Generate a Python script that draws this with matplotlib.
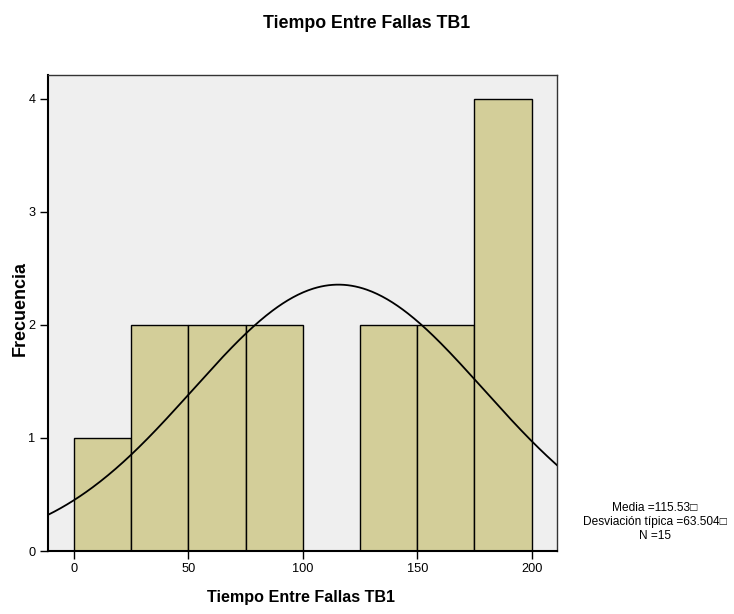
import numpy as np
import matplotlib
matplotlib.use("Agg")
import matplotlib.pyplot as plt

bin_edges = [0, 25, 50, 75, 100, 125, 150, 175, 200]
counts = [1, 2, 2, 2, 0, 2, 2, 4]
mean = 115.53
std = 63.504
n = 15
x_ticks = [0, 50, 100, 150, 200]
y_ticks = [0, 1, 2, 3, 4]

plt.rcParams['font.family'] = ['Liberation Sans', 'DejaVu Sans']

fig = plt.figure(figsize=(7.34, 6.14), dpi=100)
ax = fig.add_axes([48/734, 63/614, 509/734, 476/614])
ax.set_facecolor('#EFEFEF')

widths = np.diff(bin_edges)
ax.bar(bin_edges[:-1], counts, width=widths, align='edge',
       color='#D3CE99', edgecolor='black', linewidth=1.0, zorder=2)

xlim = (-11.4, 211.1)
xs = np.linspace(xlim[0], xlim[1], 400)
bw = bin_edges[1] - bin_edges[0]
ys = n * bw / (std * np.sqrt(2 * np.pi)) * np.exp(-0.5 * ((xs - mean) / std) ** 2)
ax.plot(xs, ys, color='black', linewidth=1.3, zorder=3)

ax.set_xlim(*xlim)
ax.set_ylim(0, 4.21)
ax.set_xticks(x_ticks)
ax.set_yticks(y_ticks)
ax.tick_params(direction='out', length=6, width=1, labelsize=9.2, colors='black', pad=3)
for s in ax.spines.values():
    s.set_color('#333333')
    s.set_linewidth(1.0)
ax.spines['left'].set_color('black')
ax.spines['bottom'].set_color('black')
ax.spines['left'].set_linewidth(1.5)
ax.spines['bottom'].set_linewidth(1.5)

ax.set_xlabel('Tiempo Entre Fallas TB1', fontsize=11.6, fontweight='bold')
ax.xaxis.set_label_coords(0.497, -0.082)
ax.set_ylabel('Frecuencia', fontsize=13, fontweight='bold')
ax.yaxis.set_label_coords(-0.038, 0.51)
fig.text(366.5/734, 1 - 23/614, 'Tiempo Entre Fallas TB1',
         ha='center', va='center', fontsize=12.8, fontweight='bold')

fig.text(655/734, 1 - 522/614,
         f'Media ={mean:.2f}\u25a1\nDesviación típica ={std:.3f}\u25a1\nN ={n}',
         ha='center', va='center', fontsize=8.6, linespacing=1.2)

fig.savefig('out.png', dpi=100)
